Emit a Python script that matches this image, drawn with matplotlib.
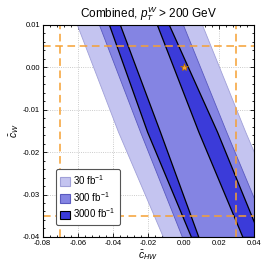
import matplotlib
matplotlib.use('Agg')
import matplotlib.pyplot as plt
from matplotlib.patches import Patch
from matplotlib import ticker

cw_levels = [0.01, -0.0152, -0.04]
band_30_lo = [-0.0605, -0.0372, -0.0117]
band_30_hi = [0.0105, 0.0350, 0.0605]
band_300_lo = [-0.0480, -0.0247, -0.0009]
band_300_hi = [-0.0003, 0.0242, 0.0491]
band_3000a_lo = [-0.0423, -0.0207, 0.0042]
band_3000a_hi = [-0.0361, -0.0134, 0.0084]
band_3000b_lo = [-0.0151, 0.0084, 0.0334]
band_3000b_hi = [-0.0083, 0.0190, 0.0434]

ref_x = [-0.07, 0.03]
ref_y = [0.005, -0.035]
sm_point = (0.0, 0.0)
labels = ['30 fb$^{-1}$', '300 fb$^{-1}$', '3000 fb$^{-1}$']

plt.rcParams.update({
    'font.family': 'Liberation Sans',
    'mathtext.fontset': 'custom',
    'mathtext.rm': 'Liberation Sans',
    'mathtext.it': 'Liberation Sans:italic',
    'mathtext.bf': 'Liberation Sans:bold',
})

c_light, e_light = '#c4c4f0', '#a0a0d8'
c_med, e_med = '#8484e3', '#5a5abf'
c_dark = '#3b3bd9'

fig = plt.figure(figsize=(2.7, 2.65), dpi=100)
ax = fig.add_axes([0.158, 0.106, 0.783, 0.8])

ax.fill_betweenx(cw_levels, band_30_lo, band_30_hi, facecolor=c_light, edgecolor=e_light, lw=0.6, zorder=1)
ax.fill_betweenx(cw_levels, band_300_lo, band_300_hi, facecolor=c_med, edgecolor=e_med, lw=0.6, zorder=2)
ax.fill_betweenx(cw_levels, band_3000a_lo, band_3000a_hi, facecolor=c_dark, edgecolor='black', lw=0.9, zorder=3)
ax.fill_betweenx(cw_levels, band_3000b_lo, band_3000b_hi, facecolor=c_dark, edgecolor='black', lw=0.9, zorder=3)

for xv in ref_x:
    ax.axvline(xv, color='#f5a033', ls=(0, (5, 3)), lw=1.1, zorder=4)
for yv in ref_y:
    ax.axhline(yv, color='#f5a033', ls=(0, (5, 3)), lw=1.1, zorder=4)

ax.plot(*sm_point, marker='*', ms=6, color='#f5a033', mec='#b06a00', mew=0.5, zorder=5)

ax.set_xlim(-0.08, 0.04)
ax.set_ylim(-0.04, 0.01)
ax.xaxis.set_major_locator(ticker.MultipleLocator(0.02))
ax.yaxis.set_major_locator(ticker.MultipleLocator(0.01))
ax.xaxis.set_minor_locator(ticker.AutoMinorLocator(5))
ax.yaxis.set_minor_locator(ticker.AutoMinorLocator(5))
ax.xaxis.set_major_formatter(ticker.FormatStrFormatter('%.2f'))
ax.yaxis.set_major_formatter(ticker.FormatStrFormatter('%.2f'))
ax.tick_params(which='both', direction='in', top=True, right=True, labelsize=5.5, pad=2, width=0.6)
ax.tick_params(which='major', length=3)
ax.tick_params(which='minor', length=1.5)
ax.grid(True, which='major', ls=':', color='#bbbbbb', lw=0.6, zorder=0)
ax.set_axisbelow(True)
for sp in ax.spines.values():
    sp.set_linewidth(0.8)
    sp.set_zorder(6)

ax.set_xlabel(r'$\bar{c}_{HW}$', fontsize=7.5, labelpad=1)
ax.set_ylabel(r'$\bar{c}_{W}$', fontsize=7.5, labelpad=1)
ax.set_title(r'Combined, $p_T^W$ > 200 GeV', fontsize=8.5, pad=5)

handles = [Patch(facecolor=c_light, edgecolor=e_light, lw=0.8),
           Patch(facecolor=c_med, edgecolor=e_med, lw=0.8),
           Patch(facecolor=c_dark, edgecolor='black', lw=0.8)]
leg = ax.legend(handles, labels, loc='lower left', fontsize=7, frameon=True, fancybox=True,
                framealpha=1, edgecolor='#555555', handlelength=1.0, handleheight=1.0,
                handletextpad=0.35, labelspacing=0.3, borderpad=0.45,
                bbox_to_anchor=(0.04, 0.035))
leg.get_frame().set_linewidth(0.8)
leg.set_zorder(7)

fig.savefig('out.png', dpi=100)
